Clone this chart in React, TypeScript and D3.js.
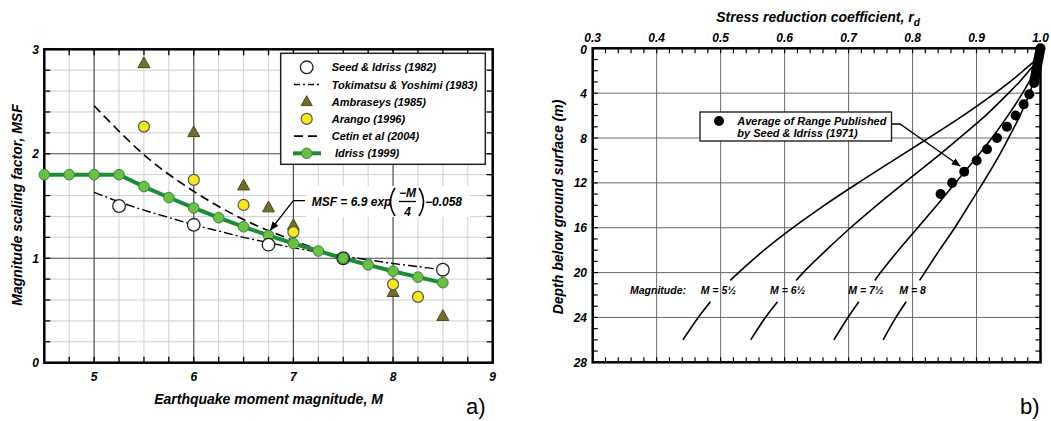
import React from "react";
import * as d3 from "d3";

// ---------- Panel a) data ----------
const idrissM = [4.5, 4.75, 5, 5.25, 5.5, 5.75, 6, 6.25, 6.5, 6.75, 7, 7.25, 7.5, 7.75, 8, 8.25, 8.5];
const idrissMSF = [1.8, 1.8, 1.8, 1.8, 1.686, 1.581, 1.482, 1.388, 1.301, 1.218, 1.141, 1.069, 1.0, 0.936, 0.876, 0.819, 0.766];
const seedM = [5.25, 6, 6.75, 7.5, 8.5];
const seedMSF = [1.5, 1.32, 1.13, 1.0, 0.89];
const tokM = [5, 5.25, 5.5, 5.75, 6, 6.25, 6.5, 6.75, 7, 7.25, 7.5, 7.75, 8, 8.25, 8.5];
const tokMSF = [1.63, 1.54, 1.46, 1.39, 1.32, 1.26, 1.2, 1.15, 1.1, 1.06, 1.02, 0.985, 0.95, 0.92, 0.89];
const ambM = [5.5, 6, 6.5, 6.75, 7, 8, 8.5];
const ambMSF = [2.87, 2.21, 1.7, 1.49, 1.32, 0.68, 0.45];
const arM = [5.5, 6, 6.5, 7, 8, 8.25];
const arMSF = [2.26, 1.75, 1.51, 1.25, 0.75, 0.63];
const cetinM = [5, 5.5, 6, 6.5, 7, 7.5];
const cetinMSF = [2.46, 1.99, 1.64, 1.37, 1.17, 1.0];
const legendLabels = [
  "Seed & Idriss (1982)",
  "Tokimatsu & Yoshimi (1983)",
  "Ambraseys (1985)",
  "Arango (1996)",
  "Cetin et al (2004)",
  "Idriss (1999)",
];
const xTicksA = [5, 6, 7, 8, 9];
const yTicksA = [0, 1, 2, 3];

// ---------- Panel b) data ----------
const upperDepth = [0, 1, 2, 3, 4, 6, 8, 10, 12, 14, 16, 18, 20, 20.7];
const lowerDepth = [22.6, 24, 26];
const magLabels = ["M = 5½", "M = 6½", "M = 7½", "M = 8"];
const rdUpper = [
  [1.0, 0.992, 0.973, 0.952, 0.929, 0.879, 0.825, 0.77, 0.715, 0.662, 0.613, 0.568, 0.528, 0.515],
  [1.0, 0.996, 0.982, 0.967, 0.95, 0.914, 0.873, 0.831, 0.787, 0.744, 0.703, 0.665, 0.629, 0.618],
  [1.0, 0.999, 0.991, 0.982, 0.972, 0.949, 0.924, 0.896, 0.867, 0.838, 0.808, 0.778, 0.75, 0.741],
  [1.0, 1.0, 0.996, 0.989, 0.983, 0.968, 0.95, 0.931, 0.91, 0.888, 0.866, 0.842, 0.819, 0.811],
];
const rdLower = [
  [0.484, 0.465, 0.441],
  [0.589, 0.57, 0.547],
  [0.716, 0.699, 0.677],
  [0.79, 0.774, 0.754],
];
const seedDepth = [0, 0.3, 0.6, 0.9, 1.2, 1.5, 1.8, 2.1, 2.4, 2.7, 3.1, 4.1, 5.0, 6.0, 7.0, 8.0, 9.0, 10.0, 11.0, 12.0, 13.0];
const seedRd = [1.0, 0.999, 0.998, 0.997, 0.996, 0.995, 0.994, 0.993, 0.992, 0.991, 0.99, 0.9825, 0.9737, 0.9612, 0.9476, 0.932, 0.9163, 0.9002, 0.8808, 0.8619, 0.8438];
const xTicksB = [0.3, 0.4, 0.5, 0.6, 0.7, 0.8, 0.9, 1.0];
const yTicksB = [0, 4, 8, 12, 16, 20, 24, 28];

const FONT = "'Liberation Sans', Arial, Helvetica, sans-serif";
const bi = { fontFamily: FONT, fontWeight: 700, fontStyle: "italic" as const };

export default function App() {
  // scales panel a
  const xA = d3.scaleLinear().domain([4.5, 9]).range([44.3, 492.7]);
  const yA = d3.scaleLinear().domain([0, 3]).range([362.7, 49.3]);
  // scales panel b
  const xB = d3.scaleLinear().domain([0.3, 1.0]).range([592.7, 1040.5]);
  const yB = d3.scaleLinear().domain([0, 28]).range([48.3, 362.3]);

  const lineA = d3
    .line<[number, number]>()
    .x((d) => xA(d[0]))
    .y((d) => yA(d[1]));
  const smoothA = d3
    .line<[number, number]>()
    .x((d) => xA(d[0]))
    .y((d) => yA(d[1]))
    .curve(d3.curveCatmullRom);
  const lineB = d3
    .line<[number, number]>()
    .x((d) => xB(d[1]))
    .y((d) => yB(d[0]))
    .curve(d3.curveCatmullRom);

  const zip = (a: number[], b: number[]) => a.map((v, i) => [v, b[i]] as [number, number]);

  const isInt = (v: number) => Math.abs(v - Math.round(v)) < 1e-6;
  const xMinorA = d3.range(1, 18).map((i) => 4.5 + i * 0.25);
  const yMinorA = d3.range(1, 15).map((i) => i * 0.2);
  const xTickA = d3.range(0, 19).map((i) => 4.5 + i * 0.25);
  const yTickA = d3.range(0, 16).map((i) => i * 0.2);

  const xTickB = d3.range(0, 36).map((i) => 0.3 + i * 0.02);
  const yTickB = d3.range(0, 29);

  const [a0, a1] = xA.range();
  const [b0, b1] = xB.range();

  const triangle = (cx: number, cy: number, s = 6) =>
    `M${cx},${cy - s} L${cx + s},${cy + s * 0.8} L${cx - s},${cy + s * 0.8} Z`;

  const legX = 280.7;
  const legY = 53.3;
  const rowY = (i: number) => legY + 14 + i * 17.2;
  const symX = 306.7;

  return (
    <svg
      width={1051}
      height={421}
      style={{ position: "absolute", left: 0, top: 0, background: "#fff" }}
    >
      <defs>
        <marker id="arr" viewBox="0 0 10 10" refX="9" refY="5" markerWidth="7" markerHeight="7" orient="auto">
          <path d="M0,1 L10,5 L0,9 Z" fill="#000" />
        </marker>
      </defs>
      <rect x={0} y={0} width={1051} height={421} fill="#fff" />

      {/* ================= Panel a ================= */}
      <g>
        {xMinorA.filter((v) => !isInt(v)).map((v, i) => (
          <line key={"xm" + i} x1={xA(v)} x2={xA(v)} y1={yA(0)} y2={yA(3)} stroke="#cfcfcf" strokeWidth={1} />
        ))}
        {yMinorA.filter((v) => !isInt(v)).map((v, i) => (
          <line key={"ym" + i} x1={a0} x2={a1} y1={yA(v)} y2={yA(v)} stroke="#cfcfcf" strokeWidth={1} />
        ))}
        {[5, 6, 7, 8].map((v) => (
          <line key={"xM" + v} x1={xA(v)} x2={xA(v)} y1={yA(0)} y2={yA(3)} stroke="#4a4a4a" strokeWidth={1.2} />
        ))}
        {[1, 2].map((v) => (
          <line key={"yM" + v} x1={a0} x2={a1} y1={yA(v)} y2={yA(v)} stroke="#4a4a4a" strokeWidth={1.2} />
        ))}
        {/* ticks */}
        {xTickA.map((v, i) => (
          <g key={"xt" + i}>
            <line x1={xA(v)} x2={xA(v)} y1={yA(0)} y2={yA(0) - 6} stroke="#000" strokeWidth={1.3} />
            <line x1={xA(v)} x2={xA(v)} y1={yA(3)} y2={yA(3) + 6} stroke="#000" strokeWidth={1.3} />
          </g>
        ))}
        {yTickA.map((v, i) => (
          <g key={"yt" + i}>
            <line x1={a0} x2={a0 + 6} y1={yA(v)} y2={yA(v)} stroke="#000" strokeWidth={1.3} />
            <line x1={a1} x2={a1 - 6} y1={yA(v)} y2={yA(v)} stroke="#000" strokeWidth={1.3} />
          </g>
        ))}
        <rect x={a0} y={yA(3)} width={a1 - a0} height={yA(0) - yA(3)} fill="none" stroke="#000" strokeWidth={2.5} />

        {/* tick labels */}
        {xTicksA.map((v) => (
          <text key={"xl" + v} x={xA(v)} y={381} textAnchor="middle" fontSize={12} {...bi}>
            {v}
          </text>
        ))}
        {yTicksA.map((v) => (
          <text key={"yl" + v} x={39} y={yA(v) + 4.5} textAnchor="end" fontSize={12} {...bi}>
            {v}
          </text>
        ))}
        <text x={268.5} y={404} textAnchor="middle" fontSize={14} {...bi}>
          Earthquake moment magnitude, M
        </text>
        <text transform={`translate(21.5,205) rotate(-90)`} textAnchor="middle" fontSize={14} {...bi}>
          Magnitude scaling factor, MSF
        </text>

        {/* Cetin dashed */}
        <path d={smoothA(zip(cetinM, cetinMSF)) || ""} fill="none" stroke="#000" strokeWidth={1.6} strokeDasharray="9,5" />
        {/* Tokimatsu dash-dot */}
        <path d={smoothA(zip(tokM, tokMSF)) || ""} fill="none" stroke="#000" strokeWidth={1.4} strokeDasharray="9,3,2,3" />
        {/* Idriss */}
        <path d={lineA(zip(idrissM, idrissMSF)) || ""} fill="none" stroke="#1f8a3a" strokeWidth={4} />
        {/* Ambraseys */}
        {ambM.map((m, i) => (
          <path key={"amb" + i} d={triangle(xA(m), yA(ambMSF[i]))} fill="#6f6f2c" stroke="#4a4a1e" strokeWidth={1} />
        ))}
        {/* Arango */}
        {arM.map((m, i) => (
          <circle key={"ar" + i} cx={xA(m)} cy={yA(arMSF[i])} r={5.5} fill="#f7e81a" stroke="#555" strokeWidth={1.2} />
        ))}
        {/* Idriss markers */}
        {idrissM.map((m, i) => (
          <circle key={"id" + i} cx={xA(m)} cy={yA(idrissMSF[i])} r={5.3} fill="#6cbf45" stroke="#2e8a3a" strokeWidth={1} />
        ))}
        {/* Seed & Idriss 1982 */}
        {seedM.map((m, i) => (
          <circle key={"sd" + i} cx={xA(m)} cy={yA(seedMSF[i])} r={6.3} fill="#fff" fillOpacity={i === 3 ? 0 : 1} stroke="#222" strokeWidth={1.3} />
        ))}

        {/* equation */}
        <rect x={306} y={186} width={164} height={31} fill="#fff" />
        <polyline points="305,200.7 293.3,200.7 270.5,230" fill="none" stroke="#000" strokeWidth={1.3} markerEnd="url(#arr)" />
        <text x={311.7} y={206} fontSize={12} {...bi}>
          MSF = 6.9 exp
        </text>
        <path d="M395,188 Q386,202 395,216" fill="none" stroke="#000" strokeWidth={1.6} />
        <text x={407.5} y={197} textAnchor="middle" fontSize={12} {...bi}>
          −M
        </text>
        <line x1={399} x2={416} y1={201.5} y2={201.5} stroke="#000" strokeWidth={1.3} />
        <text x={407.5} y={216} textAnchor="middle" fontSize={12} {...bi}>
          4
        </text>
        <path d="M419,188 Q428,202 419,216" fill="none" stroke="#000" strokeWidth={1.6} />
        <text x={425} y={206} fontSize={12} {...bi}>
          −0.058
        </text>

        {/* legend */}
        <rect x={legX} y={legY} width={204.6} height={111} fill="#fff" stroke="#222" strokeWidth={1.5} />
        <circle cx={symX} cy={rowY(0)} r={6.3} fill="#fff" stroke="#222" strokeWidth={1.3} />
        <line x1={294} x2={320} y1={rowY(1)} y2={rowY(1)} stroke="#000" strokeWidth={1.4} strokeDasharray="6,3,2,3" />
        <path d={triangle(symX, rowY(2) - 0.5, 5.5)} fill="#6f6f2c" stroke="#4a4a1e" strokeWidth={1} />
        <circle cx={symX} cy={rowY(3)} r={5.5} fill="#f7e81a" stroke="#555" strokeWidth={1.2} />
        <line x1={294} x2={320} y1={rowY(4)} y2={rowY(4)} stroke="#000" strokeWidth={1.6} strokeDasharray="9,5" />
        <line x1={293} x2={321} y1={rowY(5)} y2={rowY(5)} stroke="#1f8a3a" strokeWidth={4} />
        <circle cx={symX} cy={rowY(5)} r={5.3} fill="#6cbf45" stroke="#2e8a3a" strokeWidth={1} />
        {legendLabels.map((t, i) => (
          <text key={"lg" + i} x={i === 5 ? 335 : 331.7} y={rowY(i) + 4} fontSize={11} {...bi}>
            {t}
          </text>
        ))}

        <text x={466} y={414} fontSize={22} fontFamily={FONT}>
          a)
        </text>
      </g>

      {/* ================= Panel b ================= */}
      <g>
        {xTicksB.slice(1, -1).map((v) => (
          <line key={"gx" + v} x1={xB(v)} x2={xB(v)} y1={yB(0)} y2={yB(28)} stroke="#6a6a6a" strokeWidth={1} />
        ))}
        {yTicksB.slice(1, -1).map((v) => (
          <line key={"gy" + v} x1={b0} x2={b1} y1={yB(v)} y2={yB(v)} stroke="#6a6a6a" strokeWidth={1} />
        ))}
        {xTickB.map((v, i) => (
          <g key={"bxt" + i}>
            <line x1={xB(v)} x2={xB(v)} y1={yB(0)} y2={yB(0) + 5} stroke="#000" strokeWidth={1.2} />
            <line x1={xB(v)} x2={xB(v)} y1={yB(28)} y2={yB(28) - 5} stroke="#000" strokeWidth={1.2} />
          </g>
        ))}
        {yTickB.map((v) => (
          <g key={"byt" + v}>
            <line x1={b0} x2={b0 + 5} y1={yB(v)} y2={yB(v)} stroke="#000" strokeWidth={1.2} />
            <line x1={b1} x2={b1 - 5} y1={yB(v)} y2={yB(v)} stroke="#000" strokeWidth={1.2} />
          </g>
        ))}
        <rect x={b0} y={yB(0)} width={b1 - b0} height={yB(28) - yB(0)} fill="none" stroke="#000" strokeWidth={2.5} />

        {xTicksB.map((v) => (
          <text key={"bxl" + v} x={xB(v)} y={41.5} textAnchor="middle" fontSize={12} {...bi}>
            {v.toFixed(1)}
          </text>
        ))}
        {yTicksB.map((v) => (
          <text key={"byl" + v} x={587} y={yB(v) + 4.5 + (v === 0 ? 1 : 0)} textAnchor="end" fontSize={12} {...bi}>
            {v}
          </text>
        ))}
        <text x={818} y={22} textAnchor="middle" fontSize={14} {...bi}>
          Stress reduction coefficient,{"  "}r
          <tspan fontSize={10} dy={4}>d</tspan>
        </text>
        <text transform={`translate(563,207) rotate(-90)`} textAnchor="middle" fontSize={14} {...bi}>
          Depth below ground surface (m)
        </text>

        {/* rd curves */}
        {rdUpper.map((vals, k) => (
          <g key={"rc" + k}>
            <path d={lineB(zip(upperDepth, vals)) || ""} fill="none" stroke="#000" strokeWidth={1.6} />
            <path d={lineB(zip(lowerDepth, rdLower[k])) || ""} fill="none" stroke="#000" strokeWidth={1.6} />
          </g>
        ))}

        {/* Seed & Idriss 1971 dots */}
        {seedDepth.map((z, i) => (
          <circle key={"sd71" + i} cx={xB(seedRd[i])} cy={yB(z)} r={5} fill="#000" />
        ))}

        {/* magnitude labels */}
        <text x={630} y={294} fontSize={10.5} {...bi}>
          Magnitude:
        </text>
        {magLabels.map((t, k) => (
          <text key={"ml" + k} x={[700.7, 770, 848.3, 899.3][k]} y={294} fontSize={10.5} {...bi}>
            {t}
          </text>
        ))}

        {/* legend box */}
        <polyline points="891.5,124 900,124 960,166" fill="none" stroke="#000" strokeWidth={1.3} markerEnd="url(#arr)" />
        <rect x={700} y={112} width={191.5} height={29} fill="#fff" stroke="#222" strokeWidth={1.4} />
        <circle cx={719} cy={121} r={5} fill="#000" />
        <text x={737.3} y={124.8} fontSize={11} {...bi}>
          Average of Range Published
        </text>
        <text x={737.3} y={136.5} fontSize={11} {...bi}>
          by Seed &amp; Idriss (1971)
        </text>

        <text x={1020} y={414} fontSize={22} fontFamily={FONT}>
          b)
        </text>
      </g>
    </svg>
  );
}
